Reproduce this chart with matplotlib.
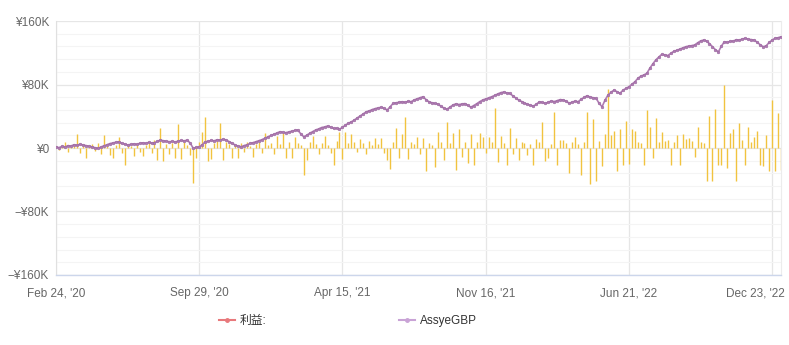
import matplotlib.pyplot as plt
from matplotlib.lines import Line2D
from matplotlib.ticker import FuncFormatter, MultipleLocator
from matplotlib.transforms import ScaledTranslation

plt.rcParams["font.family"] = ["Liberation Sans", "Noto Sans CJK SC", "DejaVu Sans"]

# balance curve (¥K), one value per trading step
balance = [
    1.3, 0.5, 2.0, 1.2, 3.0, 2.4, 4.1, 3.5, 4.6, 3.8, 3.0, 2.2,
    1.5, 0.4, -0.4, 1.0, 2.8, 4.0, 5.5, 6.4, 7.2, 7.9, 6.0, 5.0,
    3.8, 4.5, 5.2, 4.6, 5.8, 6.5, 5.9, 7.0, 6.2, 6.7, 8.5, 10.0,
    9.1, 8.6, 7.8, 8.4, 7.6, 8.8, 9.5, 9.0, 10.0, 6.0, -0.4, 0.8,
    1.6, 4.2, 7.9, 8.5, 9.6, 9.0, 10.4, 10.1, 11.0, 10.2, 8.0, 6.1,
    3.8, 2.4, 1.6, 3.0, 4.1, 5.8, 6.7, 7.9, 9.2, 10.5, 12.2, 14.0,
    15.8, 17.2, 18.9, 20.5, 19.8, 19.3, 20.2, 21.0, 22.1, 22.7, 18.0, 14.2,
    16.0, 18.5, 20.6, 22.7, 24.0, 25.8, 26.5, 27.7, 26.2, 24.8, 25.0, 23.6,
    26.0, 28.9, 31.2, 33.0, 35.3, 38.0, 40.5, 43.1, 45.7, 46.8, 48.5, 49.7,
    50.6, 51.3, 50.0, 47.9, 52.1, 56.3, 57.0, 57.8, 58.3, 57.5, 58.9, 58.3,
    60.5, 62.0, 63.4, 64.6, 61.0, 58.2, 57.0, 56.1, 55.4, 52.5, 50.3, 48.8,
    51.5, 54.2, 55.6, 54.8, 55.4, 56.0, 53.9, 51.3, 53.5, 55.8, 58.4, 60.5,
    61.9, 63.2, 64.6, 66.3, 68.0, 69.7, 70.5, 69.5, 68.9, 66.0, 63.2, 60.5,
    58.6, 56.7, 55.1, 53.8, 52.9, 55.2, 58.3, 57.4, 56.3, 57.8, 59.2, 58.5,
    59.8, 61.0, 60.5, 58.9, 56.3, 57.9, 59.0, 58.3, 61.5, 63.8, 65.9, 64.1,
    63.3, 62.6, 56.3, 52.0, 60.5, 66.8, 70.2, 73.0, 71.0, 68.9, 72.8, 75.1,
    77.2, 80.4, 83.5, 87.8, 90.6, 92.0, 94.1, 100.5, 106.0, 110.9, 114.6, 118.0,
    117.4, 116.5, 119.2, 121.8, 123.0, 124.5, 126.1, 127.6, 128.4, 129.0, 129.8, 132.5,
    134.9, 136.0, 134.8, 131.5, 127.6, 123.8, 121.3, 128.5, 133.9, 133.2, 134.6, 134.8,
    136.5, 135.9, 137.4, 138.2, 137.0, 136.6, 136.0, 133.2, 130.1, 127.6, 128.8, 133.0,
    136.0, 138.4, 139.0, 140.3,
]

# profit per step (¥K)
profit = [
    2, -3, 4, 8, -5, 3, 5, 18, -6, 4, -12, 3,
    5, -4, 6, -7, 17, 3, -9, -12, 4, 14, -6, -22,
    5, 3, -10, 6, -5, -10, 4, 7, -6, 10, -15, 25,
    -17, 5, -8, 6, -12, 30, -14, 7, 4, -9, -44, -12,
    8, 20, 39, -16, -14, 6, 9, 32, -15, 7, 5, -12,
    4, -13, 6, -5, 8, 3, -11, 5, 7, -6, 19, 4,
    6, -8, 15, 5, 20, -12, 7, -13, 14, 6, 4, -34,
    -15, 8, 15, 5, -7, 6, 15, 4, -6, -21, 9, 20,
    -14, 20, 6, 18, 7, -5, 11, 6, -8, 9, 4, 12,
    5, 12, -6, -15, -26, 8, 25, -12, 18, 39, -14, 7,
    5, 14, -8, 13, -29, 6, 4, -24, 20, 7, -15, 33,
    6, 19, -28, 24, -11, 8, -19, 18, -21, 7, 19, 14,
    -6, 14, 8, 51, -18, 15, 6, -21, 25, -7, 12, -15,
    8, 6, -9, 5, -21, 11, 7, 33, -17, -13, 5, 45,
    -21, 10, 10, 6, -32, 8, 14, 5, -34, 7, 45, -45,
    37, -42, 9, -23, 18, 74, 16, 22, -29, 24, -21, 34,
    -20, 24, 21, 8, 6, -21, 48, 26, -12, 38, 7, 20,
    9, 10, -21, 8, 16, -22, 18, 11, 12, 9, -11, 27,
    8, 6, -42, 40, -42, 49, -21, -21, 80, -25, 19, 24,
    -42, 31, 10, -21, 27, 8, 14, 22, -21, -23, 16, -29,
    60, -29, 44, -28,
]

tick_labels = ["Feb 24, '20", "Sep 29, '20", "Apr 15, '21",
               "Nov 16, '21", "Jun 21, '22", "Dec 23, '22"]
tick_step = 48

steps = list(range(len(balance)))

fig = plt.figure(figsize=(7.89, 3.45), dpi=100)
ax = fig.add_axes([0.071, 0.203, 0.919, 0.736])

# thin profit columns from the zero line
ax.vlines(steps, 0, profit, colors="#f1c33f", linewidth=1.0, zorder=2)
ax.plot(steps, balance, color="#b07cb3", linewidth=1.2, marker="o",
        markersize=1.9, markeredgewidth=0.4, markeredgecolor="#9a679f", zorder=3)

ax.set_xlim(0, len(balance) - 1)
ax.set_ylim(-160, 160)

ax.set_xticks([i * tick_step for i in range(len(tick_labels))])
ax.set_xticklabels(tick_labels)
ax.yaxis.set_major_locator(MultipleLocator(80))
ax.yaxis.set_minor_locator(MultipleLocator(16))


def yen(v, _):
    if v == 0:
        return "¥0"
    sign = "\u2212" if v < 0 else ""
    return f"{sign}¥{abs(v):.0f}K"


ax.yaxis.set_major_formatter(FuncFormatter(yen))

ax.grid(which="major", axis="both", color="#e6e6e6", linewidth=0.9, zorder=0)
ax.grid(which="minor", axis="y", color="#f4f4f4", linewidth=0.8, zorder=0)
ax.set_axisbelow(True)

ax.tick_params(axis="both", which="both", length=0, colors="#666666", labelsize=8.5)
ax.tick_params(axis="x", pad=9)
ax.tick_params(axis="y", pad=5)

# keep the last date label inside the figure
last = ax.get_xticklabels()[-1]
last.set_horizontalalignment("right")
last.set_transform(last.get_transform() + ScaledTranslation(9 / 72, 0, fig.dpi_scale_trans))

ax.spines["top"].set_visible(False)
ax.spines["right"].set_color("#ececec")
ax.spines["left"].set_color("#e0e0e0")
ax.spines["bottom"].set_color("#ccd6eb")
ax.spines["bottom"].set_linewidth(1.0)

handles = [
    Line2D([0], [0], color="#e8797c", linewidth=1.5, marker="o", markersize=2.5),
    Line2D([0], [0], color="#c9a3d6", linewidth=1.5, marker="o", markersize=2.5),
]
fig.legend(handles, ["利益:", "AssyeGBP"], loc="center",
           bbox_to_anchor=(0.441, 0.07), ncol=2, frameon=False,
           fontsize=8.5, handlelength=1.4, handletextpad=0.4,
           columnspacing=11.2, labelcolor="#333333")

fig.savefig("out.png", dpi=100)
